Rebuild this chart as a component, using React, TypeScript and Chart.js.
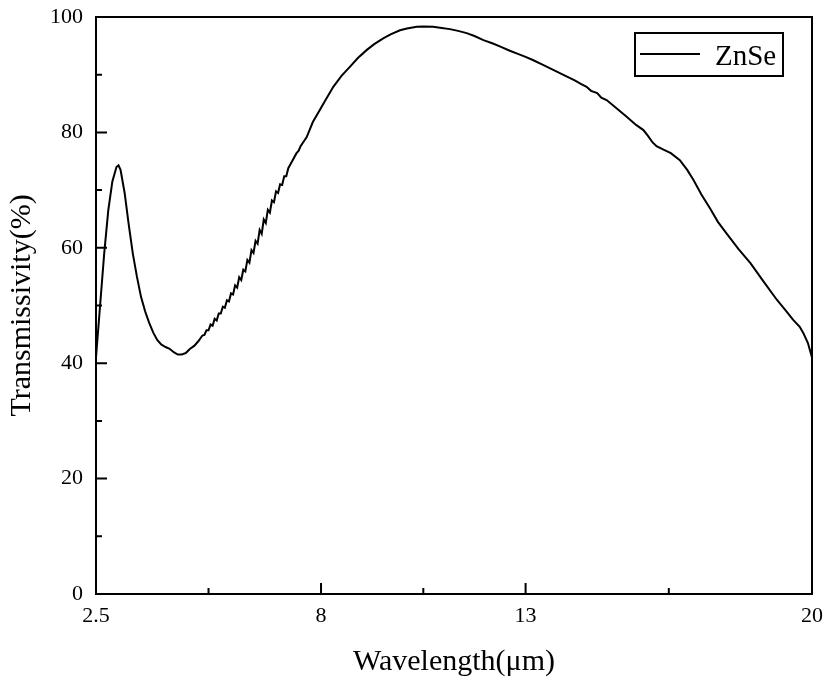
import React, { useEffect, useRef } from "react";
import { Chart, registerables } from "chart.js";

Chart.register(...registerables);

const seriesLabel = "ZnSe";
const xTitle = "Wavelength(\u03bcm)";
const yTitle = "Transmissivity(%)";

const xMajorTicks = [2.5, 8, 13, 20];
const xMinorTicks = [5.25, 10.5, 16.5];
const yMajorTicks = [0, 20, 40, 60, 80, 100];
const yMinorTicks = [10, 30, 50, 70, 90];

const wavelength = [
  2.5, 2.6, 2.7, 2.8, 2.9, 3.0, 3.05, 3.1, 3.2, 3.3, 3.4, 3.5, 3.6, 3.7, 3.8, 3.9,
  4.0, 4.1, 4.2, 4.3, 4.4, 4.5, 4.6, 4.7, 4.8, 4.9, 5.0,
  5.1, 5.15, 5.2, 5.25, 5.3, 5.35, 5.4, 5.45, 5.5, 5.55, 5.6, 5.65, 5.7, 5.75, 5.8, 5.85,
  5.9, 5.95, 6.0, 6.05, 6.1, 6.15, 6.2, 6.25, 6.3, 6.35, 6.4, 6.45, 6.5, 6.55, 6.6, 6.65,
  6.7, 6.75, 6.8, 6.85, 6.9, 6.95, 7.0, 7.05, 7.1, 7.15, 7.2, 7.3, 7.4, 7.45, 7.5,
  7.65, 7.8, 7.97, 8.1, 8.3, 8.5, 8.71, 8.9, 9.12, 9.3, 9.52, 9.7, 9.93, 10.1, 10.34,
  10.5, 10.74, 10.95, 11.15, 11.35, 11.56, 11.75, 11.97, 12.2, 12.37, 12.6, 12.78, 13.0,
  13.19, 13.4, 13.6, 13.8, 14.0, 14.2, 14.35, 14.49, 14.6, 14.75, 14.85, 14.98, 15.2,
  15.47, 15.7, 15.88, 16.0, 16.1, 16.2, 16.37, 16.55, 16.77, 16.95, 17.1, 17.3, 17.51,
  17.7, 17.91, 18.2, 18.5, 18.8, 19.14, 19.35, 19.54, 19.7, 19.79, 19.9, 20.0,
];

const transmissivity = [
  41.0, 50.0, 59.0, 66.5, 71.5, 74.0, 74.3, 73.5, 69.5, 64.0, 59.0, 55.0, 51.5, 49.0, 47.0, 45.3,
  44.0, 43.2, 42.8, 42.5, 41.9, 41.5, 41.5, 41.8, 42.5, 43.0, 43.8,
  44.8, 44.9, 45.7, 45.7, 46.7, 46.5, 47.7, 47.4, 48.6, 48.6, 49.8, 49.6, 50.9, 50.7, 52.1, 51.9,
  53.5, 53.1, 54.9, 54.4, 56.2, 55.9, 57.9, 57.4, 59.6, 59.1, 61.2, 60.7, 63.1, 62.4, 64.9, 64.3,
  66.6, 66.1, 68.2, 67.9, 69.8, 69.5, 71.0, 70.9, 72.4, 72.4, 73.8, 75.1, 76.4, 76.8, 77.6,
  79.2, 81.8, 83.9, 85.5, 87.9, 89.8, 91.4, 92.9, 94.3, 95.3, 96.3, 97.0, 97.7, 98.0, 98.3,
  98.35, 98.3, 98.1, 97.9, 97.6, 97.2, 96.7, 96.0, 95.4, 94.9, 94.2, 93.7, 93.1,
  92.5, 91.8, 91.1, 90.4, 89.7, 89.0, 88.4, 87.9, 87.2, 86.8, 86.0, 85.6, 84.3,
  82.7, 81.3, 80.4, 79.3, 78.3, 77.6, 77.0, 76.4, 75.2, 73.5, 71.8, 69.2, 66.8,
  64.5, 62.5, 59.8, 57.3, 54.3, 51.0, 49.2, 47.5, 46.3, 45.2, 43.5, 41.0,
];

const FONT = "'Liberation Serif', 'Times New Roman', serif";

const framePlugin = {
  id: "frameAndTicks",
  afterDatasetsDraw(chart: any) {
    const { ctx, chartArea, scales } = chart;
    const { left, right, top, bottom } = chartArea;
    ctx.save();
    ctx.strokeStyle = "#000";
    ctx.lineWidth = 2;
    ctx.strokeRect(left, top, right - left, bottom - top);

    const xs = scales.x;
    const ys = scales.y;
    ctx.beginPath();
    xMajorTicks.forEach((v) => {
      const px = xs.getPixelForValue(v);
      ctx.moveTo(px, bottom);
      ctx.lineTo(px, bottom - 11);
    });
    xMinorTicks.forEach((v) => {
      const px = xs.getPixelForValue(v);
      ctx.moveTo(px, bottom);
      ctx.lineTo(px, bottom - 6);
    });
    yMajorTicks.forEach((v) => {
      const py = ys.getPixelForValue(v);
      ctx.moveTo(left, py);
      ctx.lineTo(left + 11, py);
    });
    yMinorTicks.forEach((v) => {
      const py = ys.getPixelForValue(v);
      ctx.moveTo(left, py);
      ctx.lineTo(left + 6, py);
    });
    ctx.stroke();

    // legend box
    const boxRight = right - 29;
    const boxW = 148;
    const boxH = 43;
    const boxLeft = boxRight - boxW;
    const boxTop = top + 16;
    ctx.lineWidth = 2;
    ctx.strokeRect(boxLeft, boxTop, boxW, boxH);
    const midY = boxTop + 21;
    ctx.beginPath();
    ctx.moveTo(boxLeft + 5, midY);
    ctx.lineTo(boxLeft + 65, midY);
    ctx.stroke();
    ctx.fillStyle = "#000";
    ctx.font = `29px ${FONT}`;
    ctx.textAlign = "left";
    ctx.textBaseline = "alphabetic";
    ctx.fillText(chart.data.datasets[0].label, boxLeft + 80, boxTop + 32);
    ctx.restore();
  },
};

export default function App() {
  const canvasRef = useRef<HTMLCanvasElement | null>(null);

  useEffect(() => {
    if (!canvasRef.current) return;
    const points = wavelength.map((w, i) => ({ x: w, y: transmissivity[i] }));
    const chart = new Chart(canvasRef.current, {
      type: "line",
      data: {
        datasets: [
          {
            label: seriesLabel,
            data: points,
            borderColor: "#000",
            borderWidth: 2,
            pointRadius: 0,
            tension: 0,
            fill: false,
          },
        ],
      },
      options: {
        responsive: false,
        animation: false,
        layout: { padding: { top: 17, right: 17, left: 0, bottom: 0 } },
        plugins: { legend: { display: false }, tooltip: { enabled: false } },
        scales: {
          x: {
            type: "linear",
            min: 2.5,
            max: 20,
            afterBuildTicks: (s: any) => {
              s.ticks = xMajorTicks.map((v) => ({ value: v }));
            },
            afterFit: (s: any) => {
              s.height = 88;
              s.paddingLeft = 0;
              s.paddingRight = 0;
              s.paddingTop = 0;
              s.paddingBottom = 0;
            },
            grid: { display: false, drawTicks: false },
            border: { display: false },
            ticks: {
              color: "#000",
              padding: 9,
              maxRotation: 0,
              autoSkip: false,
              font: { family: FONT, size: 22 },
              callback: (v: any) => String(v),
            },
            title: {
              display: true,
              text: xTitle,
              color: "#000",
              font: { family: FONT, size: 30 },
              padding: { top: 0, bottom: 2 },
            },
          },
          y: {
            type: "linear",
            min: 0,
            max: 100,
            afterBuildTicks: (s: any) => {
              s.ticks = yMajorTicks.map((v) => ({ value: v }));
            },
            afterFit: (s: any) => {
              s.width = 96;
              s.paddingLeft = 0;
              s.paddingRight = 0;
              s.paddingTop = 0;
              s.paddingBottom = 0;
            },
            grid: { display: false, drawTicks: false },
            border: { display: false },
            ticks: {
              color: "#000",
              padding: 13,
              font: { family: FONT, size: 22 },
              callback: (v: any) => String(v),
            },
            title: {
              display: true,
              text: yTitle,
              color: "#000",
              font: { family: FONT, size: 30 },
              padding: { top: 4, bottom: 0 },
            },
          },
        },
      },
      plugins: [framePlugin],
    });
    return () => chart.destroy();
  }, []);

  return (
    <div style={{ position: "fixed", left: 0, top: 0, width: 829, height: 682, background: "#fff" }}>
      <canvas ref={canvasRef} width={829} height={682} />
    </div>
  );
}
